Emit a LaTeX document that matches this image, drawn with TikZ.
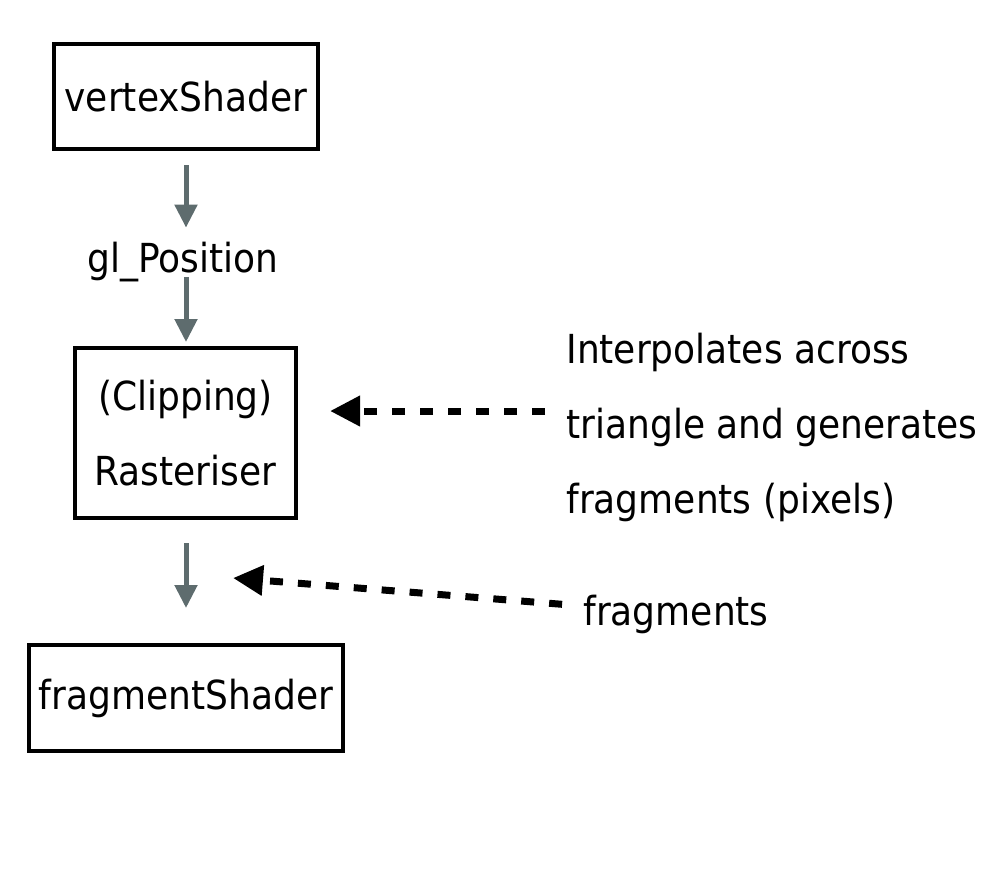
\documentclass[tikz,border=0pt]{standalone}
\usepackage{fontspec}
\setmainfont{DejaVu Sans}[FakeStretch=0.9]
\usepackage{tikz}
\usetikzlibrary{arrows.meta}
\definecolor{flowgray}{HTML}{5E6C6E}

\begin{document}
\begin{tikzpicture}[x=0.5pt, y=-0.5pt,
    font=\fontsize{20pt}{37.5pt}\selectfont,
    stage/.style={draw, line width=2pt, inner sep=0pt, align=center},
    flow/.style={-{Triangle[length=11.5pt, width=11pt]}, line width=2.5pt, flowgray},
    hint/.style={-{Triangle[length=15pt, width=14.5pt]}, line width=3.5pt,
      dash pattern=on 6.5pt off 7.5pt}]
  \useasboundingbox (0,0) rectangle (995,875);

  % Pipeline stages
  \node[stage, minimum width=132pt, minimum height=52.5pt] (vshader) at (186,96.5) {vertexShader};
  \node[anchor=base, inner sep=0pt, text height=15pt, text depth=2pt] (glpos) at (183,272) {gl\_Position};
  \node[stage, minimum width=110.5pt, minimum height=85pt] (raster) at (185.5,433)
    {(Clipping)\\Rasteriser};
  \node[stage, minimum width=157pt, minimum height=53pt] (fshader) at (186,698) {fragmentShader};

  % Notes on the right
  \node[anchor=west, inner sep=0pt, align=left] (interp) at (566,427)
    {Interpolates across\\triangle and generates\\fragments (pixels)};
  \node[anchor=base west, inner sep=0pt] (frags) at (583,625) {fragments};

  % Flow arrows
  \draw[flow, shorten <=7pt, shorten >=7pt] (vshader.south) -- (vshader.south |- glpos.north);
  \draw[flow, shorten <=0.5pt, shorten >=2pt] (vshader.south |- glpos.south) -- (vshader.south |- raster.north);
  \draw[flow, shorten <=11.5pt, shorten >=17.5pt] (fshader.north |- raster.south) -- (fshader.north);

  % Dashed pointers
  \coordinate (clipTip) at (330,411);
  \coordinate (fragTip) at (233,578);
  \draw[hint, shorten <=10.5pt] (interp.west |- clipTip) -- (clipTip);
  \draw[hint, shorten <=10.5pt] ([yshift=4pt]frags.west) -- (fragTip);
\end{tikzpicture}
\end{document}
